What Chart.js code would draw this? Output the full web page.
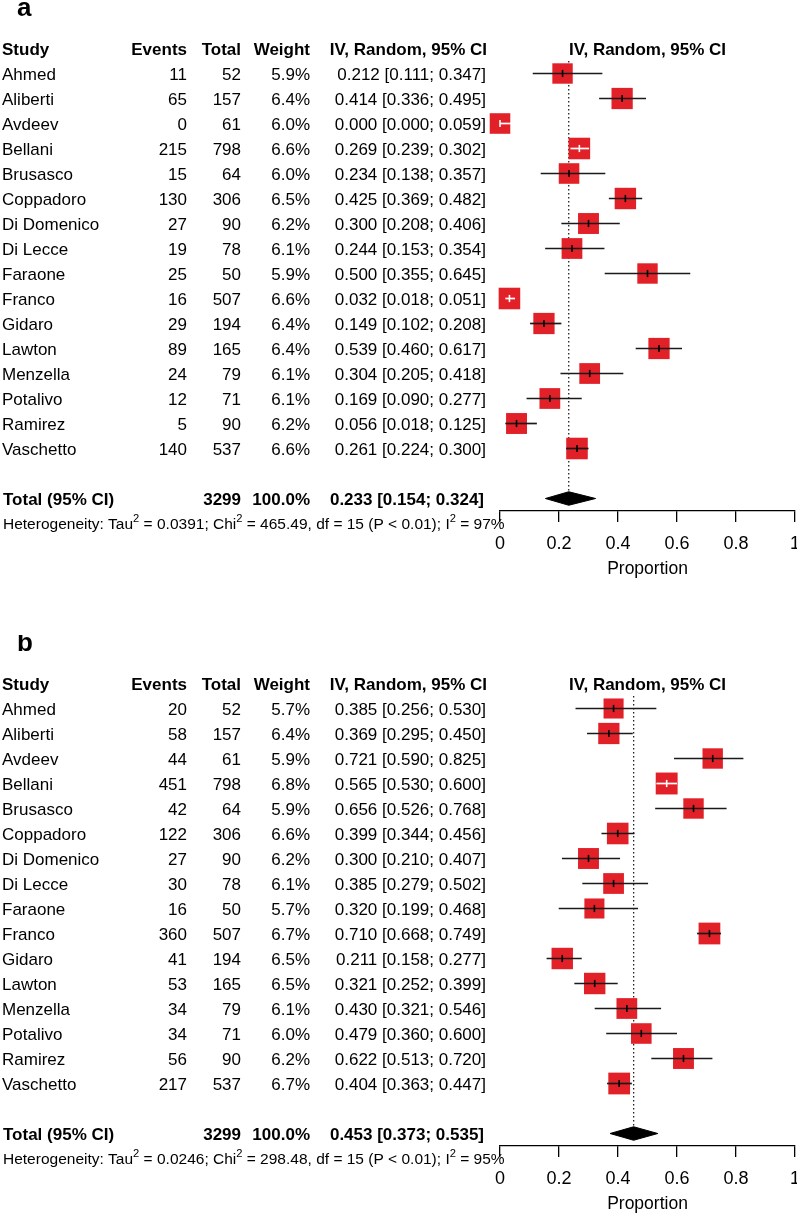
<!DOCTYPE html>
<html>
<head>
<meta charset="utf-8">
<title>Forest plots</title>
<script src="https://cdn.jsdelivr.net/npm/chart.js@4.4.1/dist/chart.umd.min.js"></script>
<style>
    html, body { margin: 0; padding: 0; background: #fff; overflow: hidden; }
    canvas { display: block; }
</style>
</head>
<body>
<canvas id="chart-a" width="797" height="635"></canvas>
<canvas id="chart-b" width="797" height="578"></canvas>
<script>
"use strict";

const studies = ["Ahmed", "Aliberti", "Avdeev", "Bellani", "Brusasco", "Coppadoro", "Di Domenico", "Di Lecce",
    "Faraone", "Franco", "Gidaro", "Lawton", "Menzella", "Potalivo", "Ramirez", "Vaschetto"];
const totals = [52, 157, 61, 798, 64, 306, 90, 78, 50, 507, 194, 165, 79, 71, 90, 537];
const xTicks = [0, 0.2, 0.4, 0.6, 0.8, 1];

// panel a
const eventsA = [11, 65, 0, 215, 15, 130, 27, 19, 25, 16, 29, 89, 24, 12, 5, 140];
const weightA = [5.9, 6.4, 6.0, 6.6, 6.0, 6.5, 6.2, 6.1, 5.9, 6.6, 6.4, 6.4, 6.1, 6.1, 6.2, 6.6];
const propA = [0.212, 0.414, 0.000, 0.269, 0.234, 0.425, 0.300, 0.244, 0.500, 0.032, 0.149, 0.539, 0.304, 0.169, 0.056, 0.261];
const lowA = [0.111, 0.336, 0.000, 0.239, 0.138, 0.369, 0.208, 0.153, 0.355, 0.018, 0.102, 0.460, 0.205, 0.090, 0.018, 0.224];
const highA = [0.347, 0.495, 0.059, 0.302, 0.357, 0.482, 0.406, 0.354, 0.645, 0.051, 0.208, 0.617, 0.418, 0.277, 0.125, 0.300];
const pooledA = [0.233, 0.154, 0.324];
const hetA = ["0.0391", "465.49", "15", "97"];

// panel b
const eventsB = [20, 58, 44, 451, 42, 122, 27, 30, 16, 360, 41, 53, 34, 34, 56, 217];
const weightB = [5.7, 6.4, 5.9, 6.8, 5.9, 6.6, 6.2, 6.1, 5.7, 6.7, 6.5, 6.5, 6.1, 6.0, 6.2, 6.7];
const propB = [0.385, 0.369, 0.721, 0.565, 0.656, 0.399, 0.300, 0.385, 0.320, 0.710, 0.211, 0.321, 0.430, 0.479, 0.622, 0.404];
const lowB = [0.256, 0.295, 0.590, 0.530, 0.526, 0.344, 0.210, 0.279, 0.199, 0.668, 0.158, 0.252, 0.321, 0.360, 0.513, 0.363];
const highB = [0.530, 0.450, 0.825, 0.600, 0.768, 0.456, 0.407, 0.502, 0.468, 0.749, 0.277, 0.399, 0.546, 0.600, 0.720, 0.447];
const pooledB = [0.453, 0.373, 0.535];
const hetB = ["0.0246", "298.48", "15", "95"];

(() => {

    const FONT = "'Liberation Sans', Arial, sans-serif";
    const RED = "rgb(226, 32, 40)";
    const TOTAL_ROW = 18;
    const AXIS_Y = 511;
    const AXIS_H = 69;

    function fmt(v) {
        return v.toFixed(3);
    }

    function ciText(est, lo, hi) {
        return `${fmt(est)} [${fmt(lo)}; ${fmt(hi)}]`;
    }

    // square side in px, grows with the study weight
    function boxSide(w) {
        return 8.4 * Math.sqrt(w);
    }

    // white whisker when the interval fits inside the square
    function inside(chart, lo, hi, w) {
        let x = chart.scales.x;
        if (!x) return false;
        return Math.abs(x.getPixelForValue(hi) - x.getPixelForValue(lo)) < boxSide(w);
    }

    function drawRich(ctx, x, y, parts, size) {
        ctx.textAlign = "left";
        parts.forEach(([txt, sup]) => {
            if (sup) {
                ctx.font = `${size * 0.72}px ${FONT}`;
                ctx.fillText(txt, x, y - size * 0.42);
            } else {
                ctx.font = `${size}px ${FONT}`;
                ctx.fillText(txt, x, y);
            }
            x += ctx.measureText(txt).width;
        });
    }

    function tablePlugin(p) {
        return {
            id: "forestTable",
            afterDraw(chart) {
                const ctx = chart.ctx;
                const rowY = (r) => chart.scales.y.getPixelForValue(r) + 1.5;
                const area = chart.chartArea;

                ctx.save();
                ctx.fillStyle = "#000";

                ctx.textBaseline = "alphabetic";
                ctx.textAlign = "left";
                ctx.font = `bold 26px ${FONT}`;
                ctx.fillText(p.letter, 17, 16);

                ctx.textBaseline = "middle";

                // header
                let y = rowY(0);
                ctx.font = `bold 17px ${FONT}`;
                ctx.textAlign = "left";
                ctx.fillText("Study", 2, y);
                ctx.textAlign = "right";
                ctx.fillText("Events", 187, y);
                ctx.fillText("Total", 241, y);
                ctx.fillText("Weight", 310, y);
                ctx.fillText("IV, Random, 95% CI", 487, y);
                ctx.textAlign = "center";
                ctx.fillText("IV, Random, 95% CI", (area.left + area.right) / 2, y);

                // studies
                ctx.font = `17px ${FONT}`;
                studies.forEach((name, i) => {
                    let yy = rowY(i + 1);
                    ctx.textAlign = "left";
                    ctx.fillText(name, 2, yy);
                    ctx.textAlign = "right";
                    ctx.fillText(String(p.events[i]), 187, yy);
                    ctx.fillText(String(totals[i]), 241, yy);
                    ctx.fillText(`${p.weight[i].toFixed(1)}%`, 310, yy);
                    ctx.fillText(ciText(p.prop[i], p.low[i], p.high[i]), 486, yy);
                });

                // pooled row
                y = rowY(TOTAL_ROW);
                let sumTotal = totals.reduce((a, b) => a + b, 0);
                let sumWeight = p.weight.reduce((a, b) => a + b, 0);
                ctx.font = `bold 17px ${FONT}`;
                ctx.textAlign = "left";
                ctx.fillText("Total (95% CI)", 3, y);
                ctx.textAlign = "right";
                ctx.fillText(String(sumTotal), 241, y);
                ctx.fillText(`${Math.round(sumWeight / 10) * 10}.0%`, 310, y);
                ctx.fillText(ciText(p.pooled[0], p.pooled[1], p.pooled[2]), 484, y);

                // heterogeneity
                y = rowY(TOTAL_ROW + 1);
                drawRich(ctx, 3, y, [
                    ["Heterogeneity: Tau"], ["2", true],
                    [` = ${p.het[0]}; Chi`], ["2", true],
                    [` = ${p.het[1]}, df = ${p.het[2]} (P < 0.01); I`], ["2", true],
                    [` = ${p.het[3]}%`]
                ], 15.5);

                ctx.restore();
            }
        };
    }

    function buildDatasets(p) {
        let sets = [];

        // dotted line at the pooled estimate
        sets.push({
            type: "line",
            data: [{x: p.pooled[0], y: 0.5}, {x: p.pooled[0], y: TOTAL_ROW - 0.27}],
            borderColor: "#222",
            borderWidth: 1.3,
            borderDash: [1.5, 2.5],
            pointRadius: 0,
            order: 6
        });

        // squares
        sets.push({
            type: "scatter",
            data: p.prop.map((v, i) => ({x: v, y: i + 1})),
            pointStyle: "rect",
            pointRadius: p.weight.map((w) => boxSide(w) / Math.SQRT2),
            backgroundColor: RED,
            borderWidth: 0,
            clip: false,
            order: 5
        });

        // confidence intervals
        studies.forEach((name, i) => {
            sets.push({
                type: "line",
                label: name,
                data: [{x: p.low[i], y: i + 1}, {x: p.high[i], y: i + 1}],
                borderColor: (c) => inside(c.chart, p.low[i], p.high[i], p.weight[i]) ? "#fff" : "#1a1a1a",
                borderWidth: 1.7,
                pointRadius: 0,
                clip: false,
                order: 4
            });
        });

        // point estimate marks
        sets.push({
            type: "scatter",
            data: p.prop.map((v, i) => ({x: v, y: i + 1})),
            pointStyle: "line",
            rotation: 90,
            pointRadius: 3.6,
            borderWidth: 1.6,
            borderColor: (c) => {
                let i = c.dataIndex;
                if (i === undefined) return "#000";
                return inside(c.chart, p.low[i], p.high[i], p.weight[i]) ? "#fff" : "#000";
            },
            clip: false,
            order: 3
        });

        // diamond, filled between upper and lower edges
        const h = 0.27;
        sets.push({
            type: "line",
            data: [{x: p.pooled[1], y: TOTAL_ROW}, {x: p.pooled[0], y: TOTAL_ROW - h}, {x: p.pooled[2], y: TOTAL_ROW}],
            borderColor: "#000",
            borderWidth: 1,
            pointRadius: 0,
            tension: 0,
            order: 2
        });
        sets.push({
            type: "line",
            data: [{x: p.pooled[1], y: TOTAL_ROW}, {x: p.pooled[0], y: TOTAL_ROW + h}, {x: p.pooled[2], y: TOTAL_ROW}],
            borderColor: "#000",
            backgroundColor: "#000",
            borderWidth: 1,
            pointRadius: 0,
            tension: 0,
            fill: "-1",
            order: 1
        });

        return sets;
    }

    function renderPanel(canvasId, p) {
        const canvas = document.getElementById(canvasId);

        new Chart(canvas, {
            type: "scatter",
            data: {datasets: buildDatasets(p)},
            options: {
                responsive: false,
                animation: false,
                events: [],
                layout: {
                    autoPadding: false,
                    padding: {left: 500, right: 2, top: 61, bottom: canvas.height - AXIS_Y - AXIS_H}
                },
                plugins: {
                    legend: {display: false},
                    tooltip: {enabled: false}
                },
                scales: {
                    x: {
                        type: "linear",
                        min: 0,
                        max: 1,
                        afterBuildTicks: (scale) => {
                            scale.ticks = xTicks.map((v) => ({value: v}));
                        },
                        afterFit: (scale) => {
                            scale.height = AXIS_H;
                            scale.paddingLeft = 0;
                            scale.paddingRight = 0;
                        },
                        grid: {
                            drawOnChartArea: false,
                            drawTicks: true,
                            tickLength: 11,
                            color: "#000",
                            tickColor: "#000",
                            lineWidth: 1.3
                        },
                        border: {display: true, color: "#000", width: 1.3},
                        ticks: {
                            font: {family: FONT, size: 18},
                            color: "#000",
                            padding: 11,
                            maxRotation: 0,
                            autoSkip: false,
                            callback: (v) => String(v)
                        },
                        title: {
                            display: true,
                            text: "Proportion",
                            font: {family: FONT, size: 17.5},
                            color: "#000",
                            padding: 0
                        }
                    },
                    y: {
                        type: "linear",
                        min: 0.5,
                        max: TOTAL_ROW + 0.5,
                        reverse: true,
                        display: false
                    }
                }
            },
            plugins: [tablePlugin(p)]
        });
    }

    renderPanel("chart-a", {
        letter: "a", events: eventsA, weight: weightA, prop: propA,
        low: lowA, high: highA, pooled: pooledA, het: hetA
    });

    renderPanel("chart-b", {
        letter: "b", events: eventsB, weight: weightB, prop: propB,
        low: lowB, high: highB, pooled: pooledB, het: hetB
    });

})();
</script>
</body>
</html>
